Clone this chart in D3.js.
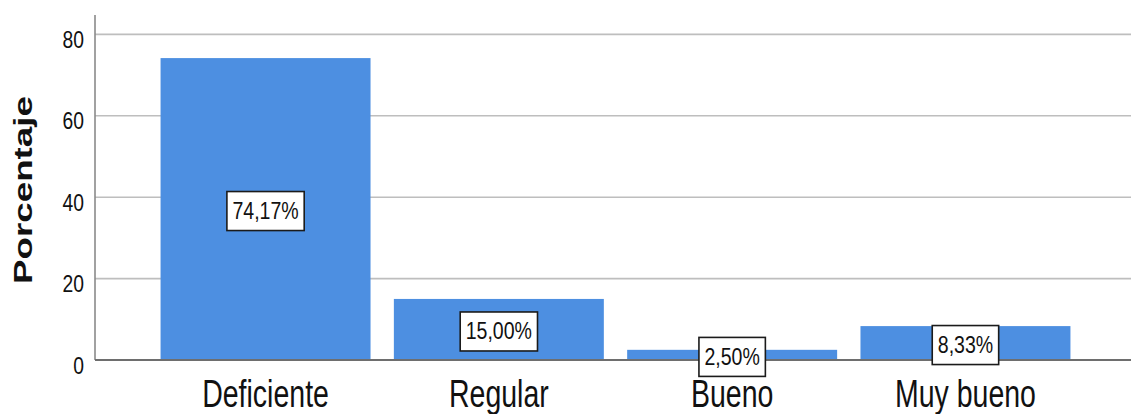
<!DOCTYPE html>
<html>
<head>
<meta charset="utf-8">
<script src="https://cdn.jsdelivr.net/npm/d3@7/dist/d3.min.js"></script>
<style>
  html, body { margin: 0; padding: 0; background: #ffffff; }
  svg { display: block; }
  text { font-family: "Liberation Sans", Arial, sans-serif; fill: #111; }
</style>
</head>
<body>
<svg id="chart" width="1131" height="414"></svg>
<script>
// Distribution by rating level (percent of respondents)
const categories = ["Deficiente", "Regular", "Bueno", "Muy bueno"];
const percentages = [74.17, 15.00, 2.50, 8.33];
const yTicks = [0, 20, 40, 60, 80];
const yTitle = "Porcentaje";

const W = 1131, H = 414;
const svg = d3.select("#chart");

const x = d3.scaleBand()
  .domain(categories)
  .range([95, 1136])
  .paddingInner(0.1)
  .paddingOuter(0.281);

const y = d3.scaleLinear()
  .domain([0, 85])
  .range([360, 14]);

const fmt = v => v.toFixed(2).replace(".", ",") + "%";

// Horizontal gridlines
svg.append("g")
  .selectAll("line")
  .data(yTicks.filter(t => t > 0))
  .join("line")
  .attr("x1", 95).attr("x2", W)
  .attr("y1", d => y(d)).attr("y2", d => y(d))
  .attr("stroke", "#bebebe")
  .attr("stroke-width", 1.6);

// Y axis via d3.axisLeft, restyled
const yAxis = svg.append("g")
  .attr("transform", "translate(95,0)")
  .call(d3.axisLeft(y).tickValues(yTicks).tickSize(0).tickPadding(0));
yAxis.select(".domain").remove();
yAxis.selectAll(".tick text")
  .attr("x", 0)
  .attr("dy", null)
  .attr("y", 0)
  .attr("text-anchor", "end")
  .style("font-size", "23px")
  .style("font-family", "'Liberation Sans', Arial, sans-serif")
  .attr("fill", "#111")
  .attr("transform", "translate(-11,13) scale(0.84,1)");

// Y axis line
svg.append("line")
  .attr("x1", 95).attr("x2", 95)
  .attr("y1", y.range()[1] + 1).attr("y2", y(0))
  .attr("stroke", "#8a8a8a")
  .attr("stroke-width", 1.6);

// Bars
svg.append("g")
  .selectAll("rect")
  .data(categories)
  .join("rect")
  .attr("x", d => x(d))
  .attr("width", x.bandwidth())
  .attr("y", (d, i) => y(percentages[i]))
  .attr("height", (d, i) => y(0) - y(percentages[i]))
  .attr("fill", "#4d8fe1");

// X axis baseline
svg.append("line")
  .attr("x1", 95).attr("x2", W)
  .attr("y1", y(0)).attr("y2", y(0))
  .attr("stroke", "#6e6e6e")
  .attr("stroke-width", 2);

// Category labels
const xAxis = svg.append("g")
  .attr("transform", `translate(0,${y(0)})`)
  .call(d3.axisBottom(x).tickSize(0).tickPadding(0));
xAxis.select(".domain").remove();
xAxis.selectAll(".tick text")
  .attr("y", 0)
  .attr("dy", null)
  .style("font-size", "38px")
  .style("font-family", "'Liberation Sans', Arial, sans-serif")
  .attr("fill", "#111")
  .attr("transform", "translate(0,47) scale(0.75,1)");

// Value labels in boxes at bar centres
const labels = svg.append("g")
  .selectAll("g")
  .data(categories)
  .join("g")
  .attr("transform", (d, i) => {
    const cx = x(d) + x.bandwidth() / 2;
    const cy = (y(percentages[i]) + y(0)) / 2 + 2;
    return `translate(${cx},${cy})`;
  });

labels.each(function(d, i) {
  const g = d3.select(this);
  const rect = g.append("rect");
  const inner = g.append("g").attr("transform", "scale(0.85,1)");
  const t = inner.append("text")
    .attr("text-anchor", "middle")
    .attr("y", 8)
    .style("font-size", "23px")
    .text(fmt(percentages[i]));
  const bb = t.node().getBBox();
  const w = bb.width * 0.85 + 11;
  const h = 39;
  rect.attr("x", -w / 2).attr("y", -h / 2)
    .attr("width", w).attr("height", h)
    .attr("fill", "#ffffff")
    .attr("stroke", "#1b1b1b")
    .attr("stroke-width", 1.6);
});

// Y axis title
svg.append("text")
  .attr("transform", "translate(32,190) rotate(-90) scale(1.47,1)")
  .attr("text-anchor", "middle")
  .style("font-size", "25px")
  .style("font-weight", "bold")
  .text(yTitle);
</script>
</body>
</html>
